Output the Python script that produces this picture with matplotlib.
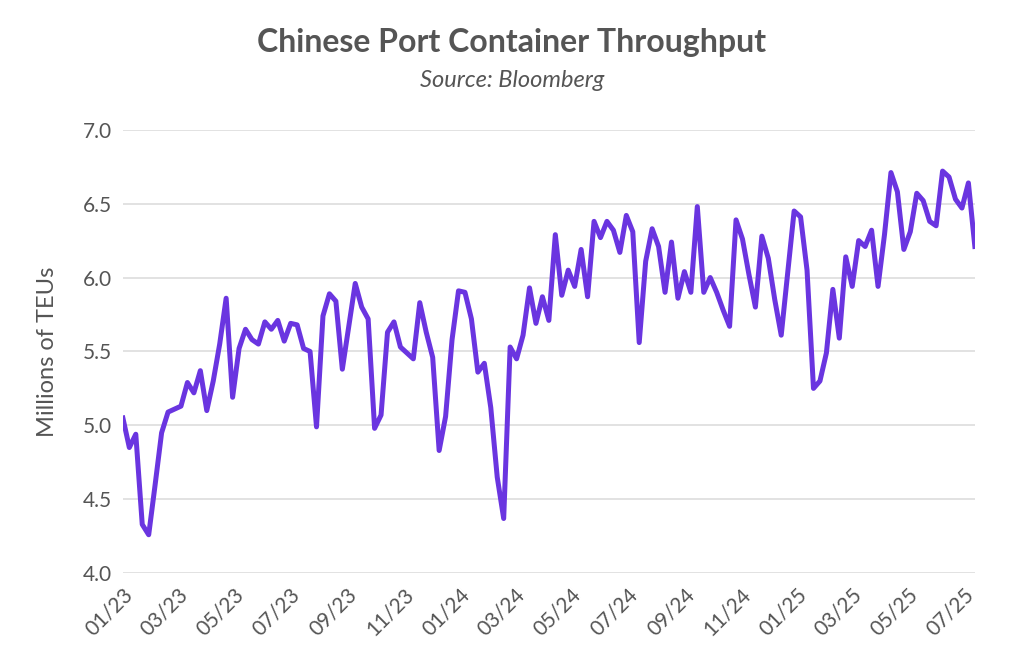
import matplotlib
matplotlib.use("Agg")
import matplotlib.pyplot as plt
import matplotlib.dates as mdates
import pandas as pd

start_date = "2023-01-01"
values = [5.05, 4.85, 4.94, 4.33, 4.26, 4.60, 4.95, 5.09, 5.11, 5.13,
          5.29, 5.22, 5.37, 5.10, 5.30, 5.55, 5.86, 5.19, 5.52, 5.65,
          5.58, 5.55, 5.70, 5.65, 5.71, 5.57, 5.69, 5.68, 5.52, 5.50,
          4.99, 5.74, 5.89, 5.84, 5.38, 5.67, 5.96, 5.80, 5.72, 4.98,
          5.07, 5.63, 5.70, 5.53, 5.49, 5.45, 5.83, 5.63, 5.46, 4.83,
          5.06, 5.58, 5.91, 5.90, 5.72, 5.36, 5.42, 5.12, 4.65, 4.37,
          5.53, 5.45, 5.61, 5.93, 5.69, 5.87, 5.71, 6.29, 5.88, 6.05,
          5.94, 6.19, 5.87, 6.38, 6.27, 6.38, 6.32, 6.17, 6.42, 6.31,
          5.56, 6.11, 6.33, 6.21, 5.90, 6.24, 5.86, 6.04, 5.90, 6.48,
          5.90, 6.00, 5.90, 5.78, 5.67, 6.39, 6.26, 6.02, 5.80, 6.28,
          6.13, 5.85, 5.61, 6.03, 6.45, 6.41, 6.05, 5.25, 5.30, 5.49,
          5.92, 5.59, 6.14, 5.94, 6.25, 6.21, 6.32, 5.94, 6.29, 6.71,
          6.58, 6.19, 6.31, 6.57, 6.52, 6.38, 6.35, 6.72, 6.68, 6.53,
          6.47, 6.64, 6.21]
dates = pd.date_range(start_date, periods=len(values), freq="7D")

title = "Chinese Port Container Throughput"
subtitle = "Source: Bloomberg"
ylabel = "Millions of TEUs"
yticks = [4.0, 4.5, 5.0, 5.5, 6.0, 6.5, 7.0]

plt.rcParams['font.family'] = ['Lato', 'DejaVu Sans']
fig = plt.figure(figsize=(10.24, 6.72), dpi=100)
ax = fig.add_axes([0.120, 0.147, 0.832, 0.660])
ax.plot(dates, values, color="#6A35E0", lw=3.6, solid_joinstyle="round")
ax.set_ylim(4.0, 7.0)
ax.set_xlim(dates[0], dates[-1])
ax.set_yticks(yticks)
ax.set_yticklabels([f"{v:.1f}" for v in yticks])
ax.grid(axis="y", color="#dddddd", lw=1.2)
ax.set_axisbelow(True)
for s in ax.spines.values():
    s.set_visible(False)
ax.tick_params(length=0, labelsize=15, colors="#555555", pad=8)
ax.xaxis.set_major_locator(mdates.MonthLocator(bymonth=[1, 3, 5, 7, 9, 11]))
ax.xaxis.set_major_formatter(mdates.DateFormatter("%m/%y"))
for lab in ax.get_xticklabels():
    lab.set_rotation(45)
    lab.set_ha("right")
    lab.set_rotation_mode("anchor")
ax.set_ylabel(ylabel, fontsize=17, color="#555555", labelpad=18)
fig.text(0.5, 0.937, title, ha="center", va="center", fontsize=23,
         fontweight="bold", color="#555555")
fig.text(0.5, 0.880, subtitle, ha="center", va="center", fontsize=17,
         style="italic", color="#555555")
fig.savefig("out.png", dpi=100, facecolor="white")
